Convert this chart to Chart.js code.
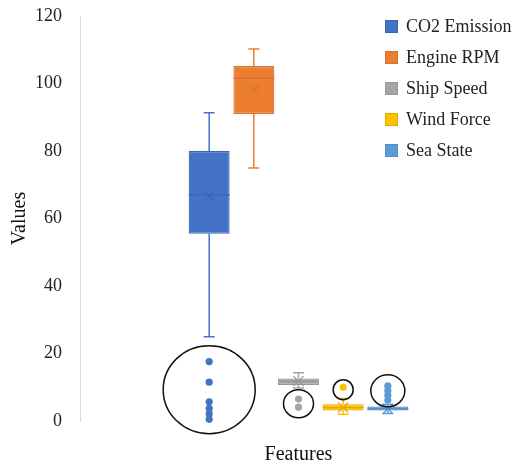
<!DOCTYPE html>
<html>
<head>
<meta charset="utf-8">
<script src="https://cdn.jsdelivr.net/npm/chart.js@4.4.1/dist/chart.umd.min.js"></script>
<style>
  html, body { margin: 0; padding: 0; background: #fff; }
  #wrap { position: relative; width: 517px; height: 468px; }
  #legend { position: absolute; left: 385px; top: 11px; font-family: "Liberation Serif", "Times New Roman", serif; font-size: 18px; color: #222; }
  #legend div { height: 31px; line-height: 31px; white-space: nowrap; }
  #legend span { display: inline-block; width: 11px; height: 11px; margin-right: 8px; vertical-align: -1px; border: 1px solid; }
</style>
</head>
<body>
<div id="wrap">
  <canvas id="chart" width="517" height="468"></canvas>
  <div id="legend"></div>
</div>
<script>
// box-and-whisker values
const series = ['CO2 Emission', 'Engine RPM', 'Ship Speed', 'Wind Force', 'Sea State'];
const whiskerLow = [25, 75, 9.8, 2, 2.2];
const q1 = [55.5, 91, 10.7, 3.1, 3.1];
const median = [67, 101.5, 11.7, 4, 3.6];
const q3 = [80, 105.2, 12.6, 5, 4.3];
const whiskerHigh = [91.3, 110.2, 14.3, 6.7, 5];
const mean = [66.8, 98.2, 11.8, 4, 3.6];
const outliers = [
  [17.6, 11.5, 5.7, 3.75, 2.1, 0.5],
  [],
  [6.5, 4.1],
  [10],
  [10.4, 9, 7.6, 6.2]
];
const yTicks = [0, 20, 40, 60, 80, 100, 120];

const fill = ['#4472C4', '#ED7D31', '#A5A5A5', '#FFC000', '#5B9BD5'];
const dark = ['#3A66B8', '#D8712E', '#979797', '#E0AA00', '#4F8DC8'];

// hand drawn rings round the outliers (centre in data units, radii in px)
const rings = [
  { series: 0, value: 9.27, rx: 46, ry: 44 },
  { series: 2, value: 5.13, rx: 15, ry: 14 },
  { series: 3, value: 9.27, rx: 10, ry: 10 },
  { series: 4, value: 8.95, rx: 17, ry: 16 }
];

const legend = document.getElementById('legend');
series.forEach((s, i) => {
  const row = document.createElement('div');
  row.innerHTML = '<span style="background:' + fill[i] + ';border-color:' + dark[i] + '"></span>' + s;
  legend.appendChild(row);
});

const boxPlugin = {
  id: 'boxParts',
  afterDatasetsDraw(chart) {
    const ctx = chart.ctx;
    const y = chart.scales.y;
    ctx.save();
    series.forEach((s, i) => {
      const bar = chart.getDatasetMeta(i).data[0];
      const x = bar.x;
      const w = bar.width;
      const cap = 5.5;
      ctx.strokeStyle = fill[i];
      ctx.lineWidth = 1.5;
      ctx.beginPath();
      ctx.moveTo(x, y.getPixelForValue(q3[i]));
      ctx.lineTo(x, y.getPixelForValue(whiskerHigh[i]));
      ctx.moveTo(x, y.getPixelForValue(q1[i]));
      ctx.lineTo(x, y.getPixelForValue(whiskerLow[i]));
      ctx.moveTo(x - cap, y.getPixelForValue(whiskerHigh[i]));
      ctx.lineTo(x + cap, y.getPixelForValue(whiskerHigh[i]));
      ctx.moveTo(x - cap, y.getPixelForValue(whiskerLow[i]));
      ctx.lineTo(x + cap, y.getPixelForValue(whiskerLow[i]));
      ctx.stroke();

      // median
      ctx.strokeStyle = dark[i];
      ctx.lineWidth = 1.2;
      ctx.beginPath();
      ctx.moveTo(x - w / 2, y.getPixelForValue(median[i]));
      ctx.lineTo(x + w / 2, y.getPixelForValue(median[i]));
      ctx.stroke();

      // mean cross
      const my = y.getPixelForValue(mean[i]);
      const m = 5;
      ctx.beginPath();
      ctx.moveTo(x - m, my - m);
      ctx.lineTo(x + m, my + m);
      ctx.moveTo(x - m, my + m);
      ctx.lineTo(x + m, my - m);
      ctx.stroke();

      // outlier points
      ctx.fillStyle = fill[i];
      outliers[i].forEach(v => {
        ctx.beginPath();
        ctx.arc(x, y.getPixelForValue(v), 3.6, 0, Math.PI * 2);
        ctx.fill();
      });
    });

    ctx.strokeStyle = '#111';
    ctx.lineWidth = 1.5;
    rings.forEach(r => {
      const bar = chart.getDatasetMeta(r.series).data[0];
      ctx.beginPath();
      ctx.ellipse(bar.x, y.getPixelForValue(r.value), r.rx, r.ry, 0, 0, Math.PI * 2);
      ctx.stroke();
    });
    ctx.restore();
  }
};

new Chart(document.getElementById('chart'), {
  type: 'bar',
  data: {
    labels: [''],
    datasets: series.map((s, i) => ({
      label: s,
      data: [[q1[i], q3[i]]],
      backgroundColor: fill[i],
      borderColor: dark[i],
      borderWidth: 1.2,
      borderSkipped: false,
      categoryPercentage: 0.511,
      barPercentage: 0.917
    }))
  },
  options: {
    responsive: false,
    animation: false,
    layout: { padding: { top: 16, right: 0, bottom: 0, left: 0 } },
    plugins: {
      legend: { display: false },
      tooltip: { enabled: false }
    },
    scales: {
      x: {
        grid: { display: false },
        border: { display: false },
        ticks: { display: false },
        title: {
          display: true,
          text: 'Features',
          color: '#111',
          font: { family: '"Liberation Serif", serif', size: 20 },
          padding: { top: 0, bottom: 1 }
        },
        afterFit: s => { s.height = 47; }
      },
      y: {
        min: 0,
        max: 120,
        afterBuildTicks: s => { s.ticks = yTicks.map(v => ({ value: v })); },
        grid: { display: false },
        border: { display: true, color: '#D9D9D9', width: 1 },
        ticks: {
          color: '#222',
          padding: 10,
          font: { family: '"Liberation Serif", serif', size: 18, lineHeight: 0.6 }
        },
        title: {
          display: true,
          text: 'Values',
          color: '#111',
          font: { family: '"Liberation Serif", serif', size: 20 },
          padding: { top: 8, bottom: 0 }
        },
        afterFit: s => { s.width = 80; }
      }
    }
  },
  plugins: [boxPlugin]
});
</script>
</body>
</html>
